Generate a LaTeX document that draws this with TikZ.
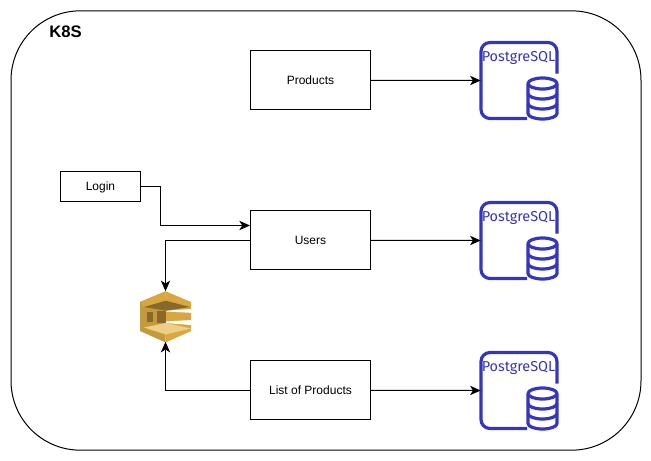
\documentclass[tikz,border=0pt]{standalone}
\usepackage{fontspec}
\setmainfont{Liberation Sans}
\newfontfamily\pgfont{Fira Sans}
\usetikzlibrary{arrows.meta}
\definecolor{pgblue}{HTML}{3436BE}
\definecolor{sqsmain}{HTML}{D9A741}
\definecolor{sqsdark}{HTML}{876929}
\definecolor{sqsmid}{HTML}{C59A3C}
\definecolor{sqsside}{HTML}{C39A3E}
\definecolor{sqslight}{HTML}{EFCF86}
\newcommand{\bt}[1]{\raisebox{-3.1pt}[0pt][0pt]{#1}}
\tikzset{
  x=0.75pt,y=-0.75pt,
  box/.style={draw=black,fill=white,line width=0.75pt,inner sep=0pt,font=\fontsize{9}{11}\selectfont},
  conn/.style={draw=black,line width=0.75pt,-{Stealth[length=8pt,width=7pt,inset=2.2pt]}},
  pgline/.style={draw=pgblue,line width=2.4pt,line join=round},
  slot/.style={inner sep=0pt,minimum width=57pt,minimum height=58pt}
}
\newcommand{\pgsql}[2]{%
  \begin{scope}[shift={(#1,#2)}]
    \draw[pgline] (46,76) -- (9,76) arc[start angle=270,end angle=180,x radius=9,y radius=-9]
      -- (0,9) arc[start angle=180,end angle=90,x radius=9,y radius=-9]
      -- (67,0) arc[start angle=90,end angle=0,x radius=9,y radius=-9] -- (76,31);
    \node[text=pgblue,inner sep=0pt,font=\pgfont\fontsize{10.8}{12}\selectfont] at (37.5,15.5) {PostgreSQL};
    \fill[white] (47,36) rectangle (77,77);
    \draw[pgline] (47,41) -- (47,71) arc[start angle=180,end angle=360,x radius=14.5,y radius=-5.5] -- (76,41);
    \draw[pgline] (61.5,41) ellipse[x radius=14.5,y radius=5.5];
    \draw[pgline] (47,51) arc[start angle=180,end angle=360,x radius=14.5,y radius=-5.5];
    \draw[pgline] (47,61) arc[start angle=180,end angle=360,x radius=14.5,y radius=-5.5];
  \end{scope}}
\begin{document}
\begin{tikzpicture}
  \useasboundingbox (0,0) rectangle (651,461);
  \node[draw=black,line width=0.75pt,rounded corners=52pt,minimum width=472.5pt,minimum height=329.5pt,inner sep=0pt] (k8s) at (326,230.5) {};
  \node[inner sep=0pt,font=\bfseries\fontsize{12.5}{14}\selectfont] (k8slabel) at (65.5,32) {K8S};

  \node[box,minimum width=90pt,minimum height=44.6pt] (products) at (310.5,80.25) {\bt{Products}};
  \node[box,minimum width=90pt,minimum height=44.6pt] (users) at (310.5,240.25) {\bt{Users}};
  \node[box,minimum width=90pt,minimum height=44.6pt] (list) at (310.5,390.25) {\bt{List of Products}};
  \node[box,minimum width=60.3pt,minimum height=22.5pt] (login) at (100.5,186) {\bt{Login}};

  \node[slot] (pg1) at (519,80.5) {};
  \node[slot] (pg2) at (519,240.5) {};
  \node[slot] (pg3) at (519,390.5) {};
  \pgsql{481}{42.5}
  \pgsql{481}{202.5}
  \pgsql{481}{352.5}

  % queue icon
  \node[inner sep=0pt,minimum width=38.25pt,minimum height=37.5pt] (queue) at (165.5,316.5) {};
  \fill[sqsside] (165.7,291.3) -- (140,302) -- (140,331) -- (165.7,342.5) -- cycle;
  \fill[sqsmain] (165.7,291.3) -- (191,302) -- (191,331) -- (165.7,342.5) -- cycle;
  \fill[sqsmain] (165.7,291.3) -- (140,302) -- (144,307) -- (165.7,301) -- cycle;
  \fill[sqsmid] (144,307) -- (165.7,310.7) -- (165.7,323) -- (144,327.5) -- cycle;
  \fill[white] (191,309) -- (165.7,310.7) -- (165.7,311.5) -- (191,312.8) -- cycle;
  \fill[white] (191,320) -- (165.7,321.5) -- (165.7,323) -- (191,325) -- cycle;
  \fill[sqsdark] (144,307) -- (165.7,300.7) -- (190,307) -- (165.7,310.7) -- cycle;
  \fill[sqsdark] (147.3,312) rectangle (153.3,321.5);
  \fill[sqsdark] (156.7,311) rectangle (165.7,323);
  \fill[sqslight] (144,327.5) -- (165.7,323) -- (191,328.5) -- (165.7,334.5) -- cycle;

  \draw[conn] (products.east) -- (pg1.west);
  \draw[conn] (users.east) -- (pg2.west);
  \draw[conn] (list.east) -- (pg3.west);
  \coordinate (loginbend) at (160.5,186);
  \coordinate (userin) at (160.5,225.5);
  \draw[conn] (login.east) -- (loginbend) -- (userin) -- (users.west |- userin);
  \draw[conn] (users.west) -| (queue.north);
  \draw[conn] (list.west) -| (queue.south);
\end{tikzpicture}
\end{document}
